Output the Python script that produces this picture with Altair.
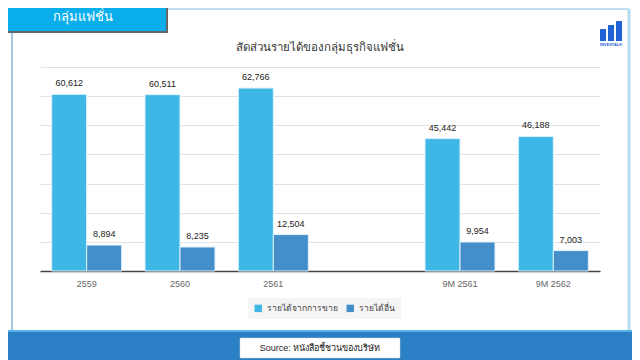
import altair as alt
import pandas as pd

categories = ["2559", "2560", "2561", " ", "9M 2561", "9M 2562"]
series_names = ["รายได้จากการขาย", "รายได้อื่น"]
sales = [60612, 60511, 62766, None, 45442, 46188]
other = [8894, 8235, 12504, None, 9954, 7003]
colors = ["#3fb7e6", "#448fca"]

rows = []
for c, s, o in zip(categories, sales, other):
    if s is not None:
        rows.append({"cat": c, "series": series_names[0], "value": s})
    if o is not None:
        rows.append({"cat": c, "series": series_names[1], "value": o})
df = pd.DataFrame(rows)

W, H = 560, 204
one = alt.Data(values=[{}])

def rect(x, x2, y, y2, color, **kw):
    return alt.Chart(one).mark_rect(color=color, **kw).encode(
        x=alt.value(x), x2=alt.value(x2), y=alt.value(y), y2=alt.value(y2))

def rule(x, x2, y, y2, color, w):
    return alt.Chart(one).mark_rule(color=color, strokeWidth=w).encode(
        x=alt.value(x), x2=alt.value(x2), y=alt.value(y), y2=alt.value(y2))

def text(t, x, y, size, color, **kw):
    return alt.Chart(one).mark_text(text=t, fontSize=size, color=color, **kw).encode(
        x=alt.value(x), y=alt.value(y))

# page coordinates -> plot coordinates: subtract (40, 67)
deco_back = [
    rule(127, 589, -58, -58, "#a9d3ee", 1.5),
    rule(589, 589, -58, 266, "#b7dcf1", 3),
    rule(-28, -28, -36, 266, "#7fb3dc", 1.5),
    rect(-40, 600, 264, 300, "#2b7fc4"),
    rect(-40, 600, 263, 265, "#5ab3ea"),
    rect(200, 360, 271, 291, "white", stroke="#d0d0d0", strokeWidth=0.5),
    text("Source: หนังสือชี้ชวนของบริษัท", 280, 281, 9, "#222"),
    rect(-38, 128, -60, -34, "#666666"),
    rect(-40, 126, -62, -36, "#0aaeeb"),
    text("กลุ่มแฟชั่น", 43, -50, 13, "white"),
    text("สัดส่วนรายได้ของกลุ่มธุรกิจแฟชั่น", 280, -19, 11.5, "#333"),
    rect(560, 566, -38, -26, "#1f63d6"),
    rect(568, 574, -42, -26, "#1f63d6"),
    rect(576, 582, -46, -26, "#1f63d6"),
    text("INVESTALK", 571, -22, 4, "#1f63d6", fontWeight="bold"),
]

base = alt.Chart(df).encode(
    x=alt.X("cat:N", scale=alt.Scale(domain=categories, paddingInner=0.25, paddingOuter=0.125),
            sort=categories,
            axis=alt.Axis(title=None, labelAngle=0, ticks=False, domainColor="#444444",
                          domainWidth=1.5, labelColor="#666666", labelFontSize=9,
                          labelPadding=8, labelFont="Liberation Sans")),
    xOffset=alt.XOffset("series:N", scale=alt.Scale(domain=series_names, paddingInner=0)),
    y=alt.Y("value:Q", scale=alt.Scale(domain=[0, 70000], nice=False),
            axis=alt.Axis(title=None, labels=False, ticks=False, domain=False,
                          values=list(range(0, 70001, 10000)), gridColor="#e2e2e2")),
)

bars = base.mark_bar(stroke="#dff2fb", strokeWidth=1).encode(
    color=alt.Color("series:N", scale=alt.Scale(domain=series_names, range=colors),
                    legend=alt.Legend(title=None, orient="none", legendX=208, legendY=231,
                                      direction="horizontal", fillColor="#f5f5f5",
                                      padding=6, symbolType="square", symbolSize=55,
                                      labelFontSize=8.5, labelColor="#444", columnPadding=8,
                                      symbolStrokeWidth=0)),
)
labels = base.mark_text(dy=-11, fontSize=9, color="#222", font="Liberation Sans").encode(
    text=alt.Text("value:Q", format=",")
)

chart = alt.layer(*deco_back, bars, labels).properties(
    width=W, height=H,
    autosize=alt.AutoSizeParams(type="none"),
    padding={"left": 32, "top": 59, "right": 32, "bottom": 89},
    background="white",
).configure_view(stroke=None)

chart.save("out.html", embed_options={"renderer": "svg", "actions": False})
